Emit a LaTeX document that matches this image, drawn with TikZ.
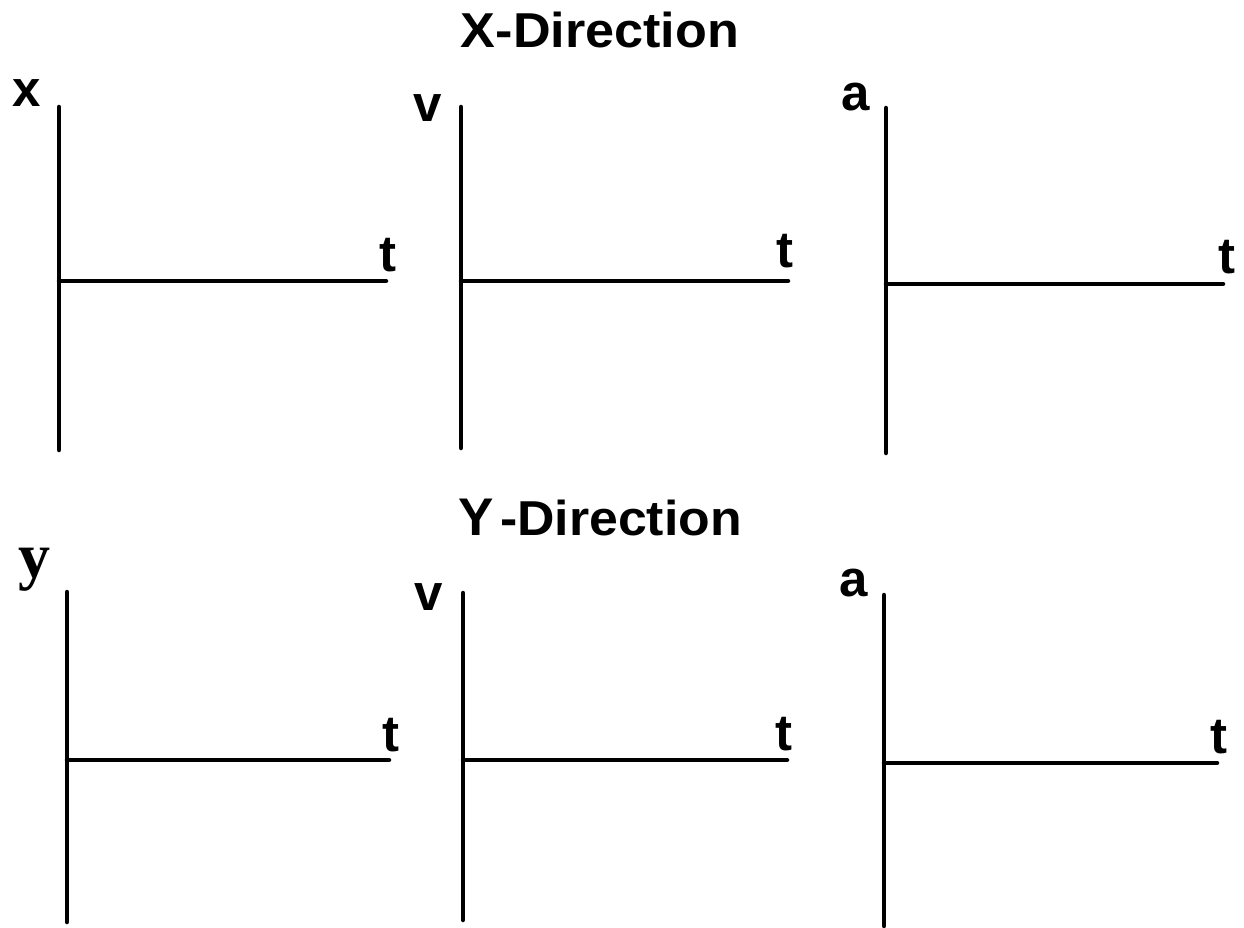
\documentclass[tikz,border=0pt]{standalone}
\usepackage{fontspec}
\setmainfont{Liberation Sans}
\newfontfamily\serifb{Liberation Serif}
\begin{document}
\begin{tikzpicture}[x=1pt,y=-1pt,
  axis/.style={line width=4.5pt, line cap=round, black},
  lbl/.style={inner sep=0pt, anchor=center, font=\fontsize{51}{51}\selectfont\bfseries},
  ttl/.style={inner sep=0pt, anchor=center, font=\fontsize{49}{49}\selectfont\bfseries}]
\useasboundingbox[fill=white] (0,0) rectangle (1244,928);
% titles
\node[ttl, xscale=1.064] (tx) at (600,29.5) {X-Direction};
\node[inner sep=0pt, font=\fontsize{53}{53}\selectfont\bfseries] (tyY) at (476,517.5) {Y};
\node[ttl, xscale=1.057] (tyD) at (621,517.5) {-Direction};
% graph 1
\coordinate (g1t) at (59,107); \coordinate (g1b) at (59,450);
\coordinate (g1o) at (59,281); \coordinate (g1r) at (386,281);
\draw[axis] (g1t) -- (g1b); \draw[axis] (g1o) -- (g1r);
\node[lbl] (lx) at (26.5,93.5) {x};
\node[lbl] (t1) at (388,255) {t};
% graph 2
\coordinate (g2t) at (461,107); \coordinate (g2b) at (461,448);
\coordinate (g2o) at (461,281); \coordinate (g2r) at (788,281);
\draw[axis] (g2t) -- (g2b); \draw[axis] (g2o) -- (g2r);
\node[lbl] (lv1) at (427.5,108.5) {v};
\node[lbl] (t2) at (785,251.5) {t};
% graph 3
\coordinate (g3t) at (886,108); \coordinate (g3b) at (886,453);
\coordinate (g3o) at (886,284); \coordinate (g3r) at (1223,284);
\draw[axis] (g3t) -- (g3b); \draw[axis] (g3o) -- (g3r);
\node[lbl] (la1) at (856,97.5) {a};
\node[lbl] (t3) at (1226.5,257.5) {t};
% graph 4
\coordinate (g4t) at (67,592); \coordinate (g4b) at (67,922);
\coordinate (g4o) at (67,760); \coordinate (g4r) at (389,760);
\draw[axis] (g4t) -- (g4b); \draw[axis] (g4o) -- (g4r);
\node[inner sep=0pt, font=\fontsize{64}{64}\selectfont\serifb\bfseries] (ly) at (34.5,570) {y};
\node[lbl] (t4) at (391,735.5) {t};
% graph 5
\coordinate (g5t) at (463,593); \coordinate (g5b) at (463,920);
\coordinate (g5o) at (463,760); \coordinate (g5r) at (787,760);
\draw[axis] (g5t) -- (g5b); \draw[axis] (g5o) -- (g5r);
\node[lbl] (lv2) at (429,597) {v};
\node[lbl] (t5) at (783.5,734) {t};
% graph 6
\coordinate (g6t) at (884,595); \coordinate (g6b) at (884,926);
\coordinate (g6o) at (884,763); \coordinate (g6r) at (1217,763);
\draw[axis] (g6t) -- (g6b); \draw[axis] (g6o) -- (g6r);
\node[lbl] (la2) at (854,583.5) {a};
\node[lbl] (t6) at (1219,737.5) {t};
\end{tikzpicture}
\end{document}
